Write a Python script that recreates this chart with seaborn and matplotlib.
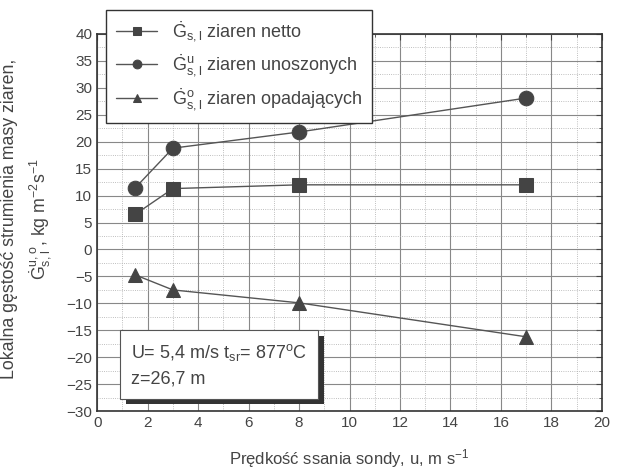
import pandas as pd
import matplotlib.pyplot as plt
import matplotlib.patheffects as pe
import seaborn as sns
from matplotlib.ticker import MultipleLocator

# Data
u_speed = [1.5, 3, 8, 17]
g_netto = [6.5, 11.3, 12.0, 12.0]
g_unoszone = [11.4, 18.8, 21.8, 28.1]
g_opadajace = [-4.7, -7.5, -9.9, -16.2]

labels = [r"$\dot{G}_{s,l}$ ziaren netto",
          r"$\dot{G}^{u}_{s,l}$ ziaren unoszonych",
          r"$\dot{G}^{o}_{s,l}$ ziaren opadających"]

df = pd.DataFrame({
    'u': u_speed * 3,
    'G': g_netto + g_unoszone + g_opadajace,
    'seria': [labels[0]] * 4 + [labels[1]] * 4 + [labels[2]] * 4,
})

sns.set_style('white')
plt.rcParams['font.family'] = ['Liberation Sans', 'DejaVu Sans']
plt.rcParams['mathtext.default'] = 'regular'
plt.rcParams['text.color'] = '#444444'
plt.rcParams['axes.labelcolor'] = '#444444'
plt.rcParams['xtick.color'] = '#444444'
plt.rcParams['ytick.color'] = '#444444'

fig = plt.figure(figsize=(6.23, 4.71), dpi=100)
ax = fig.add_axes([0.156, 0.127, 0.81, 0.801])

sns.lineplot(data=df, x='u', y='G', hue='seria', style='seria',
             markers={labels[0]: 's', labels[1]: 'o', labels[2]: '^'},
             dashes=False, palette=['#555555'] * 3, markersize=10.5,
             markeredgecolor='#444444', markerfacecolor='#444444',
             linewidth=1.0, ax=ax)

ax.set_xlim(0, 20)
ax.set_ylim(-30, 40)
ax.xaxis.set_major_locator(MultipleLocator(2))
ax.xaxis.set_minor_locator(MultipleLocator(1))
ax.yaxis.set_major_locator(MultipleLocator(5))
ax.yaxis.set_minor_locator(MultipleLocator(2.5))
ax.grid(which='major', color='#888888', linewidth=0.8)
ax.grid(which='minor', color='#aaaaaa', linewidth=0.6, linestyle=':')
ax.tick_params(which='both', direction='in', top=True, right=True, labelsize=11)
ax.tick_params(which='major', length=4)
ax.tick_params(which='minor', length=2)
for s in ax.spines.values():
    s.set_color('#333333')
    s.set_linewidth(1.2)

ax.set_xlabel(r"Prędkość ssania sondy, u, m s$^{-1}$", fontsize=12, labelpad=12)
ax.set_ylabel('')
fig.text(0.044, 0.535, "Lokalna gęstość strumienia masy ziaren,\n"
         r"$\dot{G}^{u,o}_{s,l}$, kg m$^{-2}$s$^{-1}$", fontsize=12.8,
         rotation=90, ha='center', va='center', multialignment='center',
         linespacing=1.5, color='#444444')

ax.get_legend().remove()
handles, _ = ax.get_legend_handles_labels()
leg = fig.legend(handles, labels, loc='upper left',
                 bbox_to_anchor=(0.170, 0.979), bbox_transform=fig.transFigure,
                 frameon=True, fancybox=False, fontsize=13, handlelength=2.3,
                 markerscale=0.6, borderpad=0.55, labelspacing=0.45,
                 borderaxespad=0, handletextpad=0.8)
leg.get_frame().set_edgecolor('#333333')
leg.get_frame().set_linewidth(1.0)
leg.get_frame().set_alpha(1)
leg.set_zorder(10)

t = ax.text(1.35, -21.4, "U= 5,4 m/s t$_{sr}$= 877$^{o}$C\nz=26,7 m", fontsize=13,
            va='center', ha='left', linespacing=1.6,
            bbox=dict(boxstyle='square,pad=0.6', facecolor='white',
                      edgecolor='#555555', linewidth=0.8),
            zorder=5)
t.get_bbox_patch().set_path_effects([
    pe.SimplePatchShadow(offset=(4, -4), shadow_rgbFace='#333333', alpha=1),
    pe.Normal()])

fig.savefig('out.png', dpi=100)
